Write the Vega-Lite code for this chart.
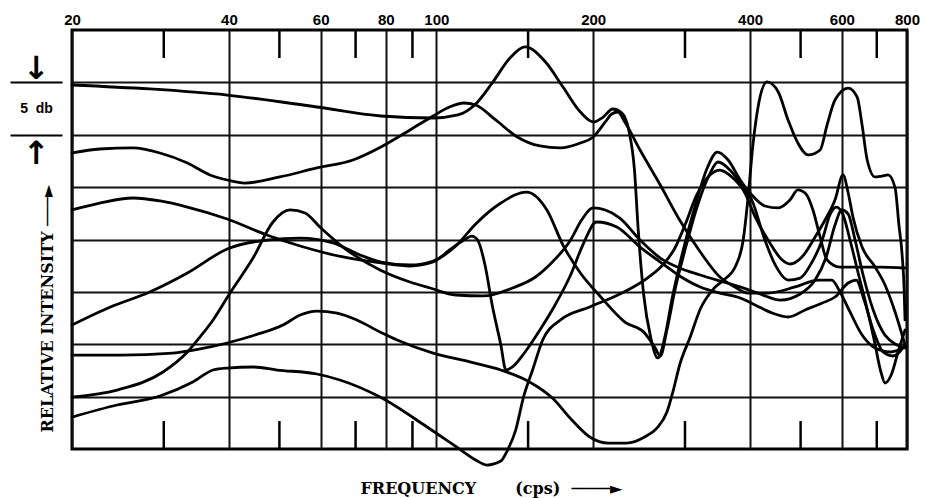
{
  "$schema": "https://vega.github.io/schema/vega-lite/v6.json",
  "width": 835,
  "height": 419,
  "autosize": {"type": "none"},
  "padding": {"left": 72, "top": 30, "right": 19, "bottom": 49},
  "background": "white",
  "config": {
    "view": {"stroke": "black", "strokeWidth": 3},
    "axis": {"gridColor": "#111111", "gridOpacity": 1, "gridWidth": 2, "labelColor": "black", "titleColor": "black"}
  },
  "datasets": {
    "curves": [
      {"c":"A","f":20,"db":34.75},{"c":"A","f":28.2,"db":34.37},{"c":"A","f":39.7,"db":33.79},{"c":"A","f":59,"db":32.65},{"c":"A","f":78.3,"db":31.79},{"c":"A","f":98.6,"db":31.6},{"c":"A","f":110,"db":31.89},{"c":"A","f":119,"db":32.94},{"c":"A","f":128,"db":34.94},{"c":"A","f":139,"db":37.42},{"c":"A","f":148,"db":38.38},{"c":"A","f":162,"db":36.94},{"c":"A","f":175,"db":34.56},{"c":"A","f":189,"db":32.17},{"c":"A","f":200,"db":31.22},{"c":"A","f":209,"db":31.69},{"c":"A","f":218,"db":32.46},{"c":"A","f":227,"db":32.08},{"c":"A","f":234,"db":30.45},{"c":"A","f":240,"db":26.63},{"c":"A","f":244,"db":20.91},{"c":"A","f":250,"db":14.7},{"c":"A","f":258,"db":10.6},{"c":"A","f":266,"db":8.69},{"c":"A","f":275,"db":10.88},{"c":"A","f":283,"db":14.22},{"c":"A","f":296,"db":18.52},{"c":"A","f":314,"db":23.29},{"c":"A","f":331,"db":26.83},{"c":"A","f":346,"db":28.35},{"c":"A","f":363,"db":27.59},{"c":"A","f":383,"db":25.68},{"c":"A","f":403,"db":24.25},{"c":"A","f":427,"db":23.2},{"c":"A","f":453,"db":23.01},{"c":"A","f":477,"db":23.77},{"c":"A","f":494,"db":24.73},{"c":"A","f":512,"db":24.34},{"c":"A","f":528,"db":22.82},{"c":"A","f":545,"db":20.24},{"c":"A","f":562,"db":18.04},{"c":"A","f":595,"db":17.37},{"c":"A","f":650,"db":17.37},{"c":"A","f":710,"db":17.37},{"c":"A","f":793,"db":17.28},
      {"c":"B","f":20,"db":28.26},{"c":"B","f":22.6,"db":28.64},{"c":"B","f":26.2,"db":28.74},{"c":"B","f":29.5,"db":28.26},{"c":"B","f":33.3,"db":27.3},{"c":"B","f":36.8,"db":26.16},{"c":"B","f":39.7,"db":25.68},{"c":"B","f":42.9,"db":25.39},{"c":"B","f":50.1,"db":25.97},{"c":"B","f":59,"db":26.83},{"c":"B","f":69.2,"db":27.59},{"c":"B","f":78.3,"db":28.83},{"c":"B","f":89,"db":30.45},{"c":"B","f":98.6,"db":31.79},{"c":"B","f":106,"db":32.65},{"c":"B","f":113,"db":33.03},{"c":"B","f":119,"db":32.84},{"c":"B","f":130,"db":31.41},{"c":"B","f":143,"db":29.79},{"c":"B","f":158,"db":28.93},{"c":"B","f":173,"db":28.74},{"c":"B","f":189,"db":29.21},{"c":"B","f":200,"db":29.79},{"c":"B","f":211,"db":31.22},{"c":"B","f":217,"db":31.98},{"c":"B","f":223,"db":32.17},{"c":"B","f":230,"db":31.22},{"c":"B","f":246,"db":28.54},{"c":"B","f":269,"db":25.2},{"c":"B","f":293,"db":21.86},{"c":"B","f":321,"db":18.81},{"c":"B","f":350,"db":16.42},{"c":"B","f":374,"db":15.47},{"c":"B","f":396,"db":14.89},{"c":"B","f":433,"db":14.89},{"c":"B","f":488,"db":15.47},{"c":"B","f":540,"db":16.13},{"c":"B","f":574,"db":16.13},{"c":"B","f":595,"db":14.99},{"c":"B","f":622,"db":13.08},{"c":"B","f":656,"db":10.88},{"c":"B","f":695,"db":9.64},{"c":"B","f":742,"db":9.26},{"c":"B","f":793,"db":9.74},
      {"c":"C","f":20,"db":22.82},{"c":"C","f":22.6,"db":23.48},{"c":"C","f":26.2,"db":23.96},{"c":"C","f":29.5,"db":23.68},{"c":"C","f":33.3,"db":23.1},{"c":"C","f":39.7,"db":21.96},{"c":"C","f":47.3,"db":20.43},{"c":"C","f":54.8,"db":19.38},{"c":"C","f":66.2,"db":18.33},{"c":"C","f":78.3,"db":17.76},{"c":"C","f":89,"db":17.47},{"c":"C","f":98.6,"db":17.85},{"c":"C","f":106,"db":19},{"c":"C","f":113,"db":19.95},{"c":"C","f":117,"db":20.33},{"c":"C","f":120,"db":19.95},{"c":"C","f":124,"db":17.57},{"c":"C","f":128,"db":13.75},{"c":"C","f":133,"db":9.93},{"c":"C","f":136,"db":7.54},{"c":"C","f":140,"db":7.83},{"c":"C","f":148,"db":9.26},{"c":"C","f":158,"db":11.36},{"c":"C","f":169,"db":13.75},{"c":"C","f":181,"db":16.61},{"c":"C","f":191,"db":19.47},{"c":"C","f":203,"db":21.67},{"c":"C","f":222,"db":21.19},{"c":"C","f":246,"db":19.28},{"c":"C","f":269,"db":17.85},{"c":"C","f":293,"db":16.52},{"c":"C","f":321,"db":15.47},{"c":"C","f":350,"db":14.89},{"c":"C","f":383,"db":14.42},{"c":"C","f":409,"db":13.75},{"c":"C","f":441,"db":12.98},{"c":"C","f":473,"db":12.6},{"c":"C","f":510,"db":13.27},{"c":"C","f":550,"db":13.94},{"c":"C","f":582,"db":14.51},{"c":"C","f":617,"db":15.85},{"c":"C","f":639,"db":16.13},{"c":"C","f":662,"db":14.22},{"c":"C","f":689,"db":11.36},{"c":"C","f":720,"db":9.26},{"c":"C","f":752,"db":8.88},{"c":"C","f":793,"db":9.93},
      {"c":"D","f":20,"db":11.84},{"c":"D","f":23.7,"db":13.56},{"c":"D","f":28.2,"db":14.99},{"c":"D","f":33.3,"db":16.8},{"c":"D","f":39.7,"db":19.09},{"c":"D","f":47.3,"db":19.95},{"c":"D","f":54.8,"db":20.14},{"c":"D","f":63.4,"db":19.67},{"c":"D","f":71.4,"db":18.52},{"c":"D","f":78.3,"db":17.85},{"c":"D","f":89,"db":17.57},{"c":"D","f":98.6,"db":17.95},{"c":"D","f":109,"db":19.38},{"c":"D","f":119,"db":21.48},{"c":"D","f":133,"db":23.48},{"c":"D","f":149,"db":24.53},{"c":"D","f":163,"db":22.82},{"c":"D","f":175,"db":19.47},{"c":"D","f":189,"db":16.8},{"c":"D","f":206,"db":14.61},{"c":"D","f":230,"db":12.12},{"c":"D","f":251,"db":11.07},{"c":"D","f":263,"db":9.64},{"c":"D","f":269,"db":8.88},{"c":"D","f":277,"db":11.36},{"c":"D","f":287,"db":15.18},{"c":"D","f":300,"db":19},{"c":"D","f":316,"db":23.01},{"c":"D","f":334,"db":26.16},{"c":"D","f":347,"db":27.4},{"c":"D","f":366,"db":26.63},{"c":"D","f":386,"db":25.11},{"c":"D","f":403,"db":23.77},{"c":"D","f":427,"db":19.95},{"c":"D","f":447,"db":17.57},{"c":"D","f":473,"db":16.13},{"c":"D","f":499,"db":16.32},{"c":"D","f":526,"db":17.85},{"c":"D","f":550,"db":19.95},{"c":"D","f":569,"db":22.34},{"c":"D","f":585,"db":23.1},{"c":"D","f":600,"db":22.63},{"c":"D","f":622,"db":19.95},{"c":"D","f":644,"db":16.9},{"c":"D","f":668,"db":13.75},{"c":"D","f":692,"db":10.41},{"c":"D","f":713,"db":7.35},{"c":"D","f":726,"db":6.3},{"c":"D","f":746,"db":7.06},{"c":"D","f":769,"db":9.26},{"c":"D","f":793,"db":11.36},
      {"c":"E","f":20,"db":8.97},{"c":"E","f":24.7,"db":8.97},{"c":"E","f":31.2,"db":9.16},{"c":"E","f":35.2,"db":9.55},{"c":"E","f":39.7,"db":10.12},{"c":"E","f":44.9,"db":10.88},{"c":"E","f":50.8,"db":11.84},{"c":"E","f":54.8,"db":12.79},{"c":"E","f":59,"db":13.17},{"c":"E","f":64.5,"db":12.98},{"c":"E","f":70.4,"db":12.32},{"c":"E","f":78,"db":11.17},{"c":"E","f":84.1,"db":10.41},{"c":"E","f":98.6,"db":9.16},{"c":"E","f":116,"db":8.31},{"c":"E","f":133,"db":7.54},{"c":"E","f":151,"db":6.4},{"c":"E","f":167,"db":4.87},{"c":"E","f":182,"db":2.77},{"c":"E","f":197,"db":1.15},{"c":"E","f":214,"db":0.57},{"c":"E","f":232,"db":0.57},{"c":"E","f":251,"db":1.15},{"c":"E","f":265,"db":2},{"c":"E","f":277,"db":3.53},{"c":"E","f":285,"db":5.63},{"c":"E","f":293,"db":8.02},{"c":"E","f":307,"db":10.69},{"c":"E","f":321,"db":13.37},{"c":"E","f":340,"db":15.27},{"c":"E","f":356,"db":16.13},{"c":"E","f":376,"db":17.57},{"c":"E","f":388,"db":19.95},{"c":"E","f":396,"db":23.77},{"c":"E","f":405,"db":29.02},{"c":"E","f":416,"db":33.13},{"c":"E","f":431,"db":35.04},{"c":"E","f":453,"db":34.08},{"c":"E","f":473,"db":31.41},{"c":"E","f":494,"db":29.21},{"c":"E","f":517,"db":28.07},{"c":"E","f":545,"db":28.54},{"c":"E","f":562,"db":30.93},{"c":"E","f":582,"db":33.32},{"c":"E","f":617,"db":34.46},{"c":"E","f":642,"db":33.6},{"c":"E","f":656,"db":30.93},{"c":"E","f":671,"db":27.59},{"c":"E","f":695,"db":25.97},{"c":"E","f":716,"db":26.06},{"c":"E","f":736,"db":26.16},{"c":"E","f":759,"db":24.92},{"c":"E","f":772,"db":21.38},{"c":"E","f":783,"db":18.52},{"c":"E","f":790,"db":15.18},{"c":"E","f":793,"db":12.32},
      {"c":"F","f":20,"db":4.96},{"c":"F","f":24.4,"db":5.63},{"c":"F","f":29.9,"db":7.35},{"c":"F","f":33.3,"db":9.26},{"c":"F","f":35.2,"db":10.69},{"c":"F","f":37.3,"db":12.32},{"c":"F","f":40.2,"db":14.89},{"c":"F","f":44.5,"db":18.23},{"c":"F","f":48.6,"db":21.67},{"c":"F","f":52.4,"db":22.82},{"c":"F","f":56,"db":22.53},{"c":"F","f":59.8,"db":21.19},{"c":"F","f":66.2,"db":19.28},{"c":"F","f":78,"db":17.09},{"c":"F","f":89,"db":15.94},{"c":"F","f":97.3,"db":15.37},{"c":"F","f":109,"db":14.7},{"c":"F","f":123,"db":14.61},{"c":"F","f":140,"db":15.37},{"c":"F","f":155,"db":16.42},{"c":"F","f":167,"db":17.85},{"c":"F","f":181,"db":19.95},{"c":"F","f":190,"db":21.86},{"c":"F","f":200,"db":23.01},{"c":"F","f":211,"db":22.82},{"c":"F","f":225,"db":22.05},{"c":"F","f":246,"db":19.95},{"c":"F","f":269,"db":18.23},{"c":"F","f":293,"db":17.28},{"c":"F","f":321,"db":16.61},{"c":"F","f":350,"db":16.04},{"c":"F","f":383,"db":15.47},{"c":"F","f":418,"db":14.8},{"c":"F","f":457,"db":14.22},{"c":"F","f":499,"db":14.8},{"c":"F","f":533,"db":16.13},{"c":"F","f":559,"db":18.23},{"c":"F","f":582,"db":21.38},{"c":"F","f":600,"db":22.82},{"c":"F","f":617,"db":22.43},{"c":"F","f":636,"db":19.95},{"c":"F","f":659,"db":16.61},{"c":"F","f":689,"db":13.27},{"c":"F","f":726,"db":10.88},{"c":"F","f":793,"db":9.64},
      {"c":"G","f":20,"db":3.05},{"c":"G","f":24.4,"db":4.2},{"c":"G","f":29.5,"db":5.06},{"c":"G","f":34.1,"db":6.4},{"c":"G","f":37.3,"db":7.54},{"c":"G","f":39.7,"db":7.73},{"c":"G","f":44.5,"db":7.83},{"c":"G","f":49.5,"db":7.54},{"c":"G","f":59,"db":7.16},{"c":"G","f":65.3,"db":6.59},{"c":"G","f":78,"db":4.96},{"c":"G","f":96,"db":2.1},{"c":"G","f":110,"db":0.1},{"c":"G","f":119,"db":-1.05},{"c":"G","f":125,"db":-1.53},{"c":"G","f":133,"db":-1.15},{"c":"G","f":137,"db":-0.1},{"c":"G","f":142,"db":1.81},{"c":"G","f":147,"db":4.96},{"c":"G","f":153,"db":7.54},{"c":"G","f":160,"db":10.41},{"c":"G","f":173,"db":12.32},{"c":"G","f":197,"db":13.56},{"c":"G","f":225,"db":14.8},{"c":"G","f":254,"db":16.32},{"c":"G","f":275,"db":17.85},{"c":"G","f":287,"db":19.19},{"c":"G","f":300,"db":21.38},{"c":"G","f":316,"db":24.25},{"c":"G","f":335,"db":26.16},{"c":"G","f":350,"db":26.63},{"c":"G","f":369,"db":25.97},{"c":"G","f":391,"db":24.44},{"c":"G","f":409,"db":22.15},{"c":"G","f":433,"db":19.95},{"c":"G","f":461,"db":18.04},{"c":"G","f":477,"db":17.66},{"c":"G","f":503,"db":18.33},{"c":"G","f":533,"db":20.24},{"c":"G","f":557,"db":21.86},{"c":"G","f":582,"db":23.77},{"c":"G","f":603,"db":26.16},{"c":"G","f":617,"db":24.44},{"c":"G","f":630,"db":22.15},{"c":"G","f":656,"db":19.28},{"c":"G","f":695,"db":17.37},{"c":"G","f":726,"db":15.66},{"c":"G","f":759,"db":13.08},{"c":"G","f":793,"db":9.93}
    ],
    "minor": [{"f":30},{"f":50},{"f":70},{"f":90},{"f":150},{"f":300},{"f":500},{"f":700}]
  },
  "layer": [
    {
      "data": {"name": "curves"},
      "mark": {"type": "line", "interpolate": "monotone", "stroke": "black", "strokeWidth": 2.8, "strokeCap": "round", "strokeJoin": "round"},
      "encoding": {
        "x": {
          "field": "f", "type": "quantitative",
          "scale": {"type": "log", "domain": [20, 800], "nice": false},
          "axis": {
            "orient": "top", "values": [20, 40, 60, 80, 100, 200, 400, 600, 800],
            "grid": true, "ticks": false, "domain": false,
            "labelFont": "Liberation Sans", "labelFontWeight": "bold", "labelFontSize": 15,
            "labelBaseline": "alphabetic", "labelPadding": 6, "labelFlush": false,
            "labelOverlap": false, "labelBound": false, "title": null
          }
        },
        "y": {
          "field": "db", "type": "quantitative",
          "scale": {"domain": [0, 40], "nice": false, "zero": false},
          "axis": {
            "orient": "left", "values": [5, 10, 15, 20, 25, 30, 35],
            "grid": true, "ticks": false, "domain": false, "labels": false,
            "title": "RELATIVE INTENSITY \u2500\u2500\u2500\u25ba",
            "titleAngle": -90, "titleX": -25, "titleY": 402,
            "titleAlign": "left", "titleBaseline": "middle",
            "titleFont": "DejaVu Serif", "titleFontWeight": "bold", "titleFontSize": 16
          }
        },
        "detail": {"field": "c", "type": "nominal"}
      }
    },
    {
      "data": {"name": "minor"},
      "mark": {"type": "rule", "stroke": "black", "strokeWidth": 2.5},
      "encoding": {
        "x": {
          "field": "f", "type": "quantitative",
          "scale": {"type": "log", "domain": [20, 800], "nice": false},
          "axis": {
            "orient": "bottom", "values": [20], "grid": false, "ticks": false, "domain": false, "labels": false,
            "title": "FREQUENCY\u00a0\u00a0\u00a0\u00a0\u00a0\u00a0\u00a0(cps)\u00a0\u00a0\u2500\u2500\u2500\u2500\u25ba",
            "titleX": 288, "titleY": 44, "titleAlign": "left", "titleBaseline": "alphabetic",
            "titleFont": "DejaVu Serif", "titleFontWeight": "bold", "titleFontSize": 16
          }
        },
        "y": {
          "datum": 0, "type": "quantitative",
          "axis": {
            "orient": "left", "offset": 10,
            "values": [28.2, 30, 32.5, 35, 36.3],
            "domain": false, "grid": false,
            "ticks": true, "tickSize": 52, "tickWidth": 2, "tickColor": "black",
            "tickOpacity": {"condition": {"test": "datum.value == 30 || datum.value == 35", "value": 1}, "value": 0},
            "labelExpr": "datum.value == 32.5 ? '5\u00a0\u00a0db' : (datum.value > 36 ? '\u2193' : (datum.value < 29 ? '\u2191' : ''))",
            "labelAlign": "center", "labelBaseline": "middle", "labelPadding": -26,
            "labelFont": {"condition": {"test": "datum.value == 32.5", "value": "Liberation Sans"}, "value": "DejaVu Sans"},
            "labelFontSize": {"condition": {"test": "datum.value == 32.5", "value": 14}, "value": 32},
            "labelFontWeight": "bold",
            "labelOverlap": false, "labelBound": false,
            "title": null
          }
        },
        "y2": {"datum": 2.67}
      }
    },
    {
      "data": {"name": "minor"},
      "mark": {"type": "rule", "stroke": "black", "strokeWidth": 2.5},
      "encoding": {
        "x": {"field": "f", "type": "quantitative", "axis": null},
        "y": {"datum": 40, "type": "quantitative", "axis": null},
        "y2": {"datum": 37.33}
      }
    }
  ],
  "resolve": {"axis": {"x": "independent", "y": "independent"}}
}
